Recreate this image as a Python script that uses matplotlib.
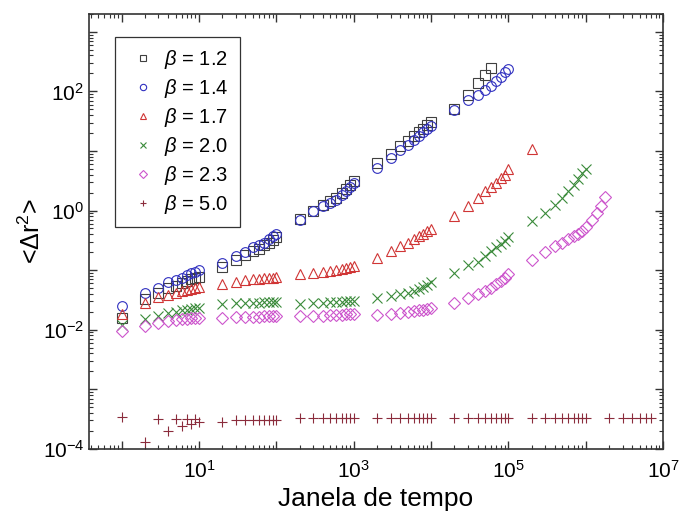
import matplotlib
matplotlib.use("Agg")
import matplotlib.pyplot as plt
from matplotlib.ticker import LogLocator, NullFormatter, FixedLocator, FixedFormatter

plt.rcParams['font.family'] = ['Liberation Sans', 'DejaVu Sans']
plt.rcParams['mathtext.fontset'] = 'custom'
plt.rcParams['mathtext.rm'] = 'Liberation Sans'
plt.rcParams['mathtext.it'] = 'Liberation Sans:italic'

# time windows, grouped by decade
g1 = [1, 2, 3, 4, 5, 6, 7, 8, 9, 10]
g2 = [20, 30, 40, 50, 60, 70, 80, 90, 100]
g3 = [200, 300, 400, 500, 600, 700, 800, 900, 1000]
g4 = [2e3, 3e3, 4e3, 5e3, 6e3, 7e3, 8e3, 9e3, 1e4]
g5 = [2e4, 3e4, 4e4, 5e4, 6e4, 7e4, 8e4, 9e4, 1e5]
g6 = [2e5, 3e5, 4e5, 5e5, 6e5, 7e5, 8e5, 9e5, 1e6]
g7 = [2e6, 3e6, 4e6, 5e6, 6e6, 7e6]

# beta = 1.2
x_12 = g1 + g2 + g3 + g4 + [2e4, 3e4, 4e4, 5e4, 6e4]
y_12 = [0.016, 0.033, 0.042, 0.05, 0.055, 0.06, 0.065, 0.07, 0.073, 0.078,
        0.115, 0.15, 0.18, 0.21, 0.23, 0.26, 0.29, 0.32, 0.36,
        0.72, 1.0, 1.25, 1.45, 1.65, 2.0, 2.3, 2.7, 3.1,
        6.4, 8.8, 12, 14.5, 17.5, 20.5, 23.5, 27, 31,
        50, 88, 137, 190, 245]

# beta = 1.4
x_14 = g1 + g2 + g3 + g4 + g5
y_14 = [0.0246, 0.041, 0.051, 0.062, 0.067, 0.075, 0.082, 0.088, 0.092, 0.1,
        0.134, 0.17, 0.205, 0.24, 0.26, 0.29, 0.33, 0.37, 0.4,
        0.69, 0.97, 1.18, 1.36, 1.53, 1.85, 2.1, 2.5, 2.9,
        5.2, 7.6, 10.5, 12.7, 15.5, 18, 20.5, 23, 25.8,
        49, 72, 88, 106, 124, 147, 177, 210, 240]

# beta = 1.7
x_17 = g1 + g2 + g3 + g4 + g5 + [2e5]
y_17 = [0.018, 0.028, 0.035, 0.038, 0.041, 0.044, 0.046, 0.049, 0.051, 0.053,
        0.058, 0.063, 0.068, 0.07, 0.072, 0.073, 0.074, 0.075, 0.076,
        0.085, 0.088, 0.092, 0.096, 0.1, 0.104, 0.108, 0.112, 0.117,
        0.16, 0.21, 0.25, 0.29, 0.33, 0.37, 0.41, 0.45, 0.49,
        0.82, 1.21, 1.63, 2.1, 2.5, 2.9, 3.5, 4.0, 4.9,
        10.8]

# beta = 2.0
x_20 = g1 + g2 + g3 + g4 + g5 + g6
y_20 = [0.012, 0.0153, 0.017, 0.019, 0.020, 0.0214, 0.0218, 0.0225, 0.023, 0.0234,
        0.027, 0.028, 0.028, 0.0285, 0.0285, 0.029, 0.029, 0.029, 0.029,
        0.0275, 0.028, 0.0285, 0.029, 0.029, 0.0295, 0.03, 0.03, 0.03,
        0.0345, 0.037, 0.039, 0.042, 0.045, 0.048, 0.052, 0.057, 0.062,
        0.088, 0.12, 0.136, 0.17, 0.21, 0.24, 0.27, 0.31, 0.36,
        0.66, 0.91, 1.26, 1.63, 2.1, 2.7, 3.4, 4.2, 5.0]

# beta = 2.3
x_23 = g1 + g2 + g3 + g4 + g5 + g6 + [1.2e6, 1.4e6, 1.6e6, 1.8e6]
y_23 = [0.0095, 0.0115, 0.0128, 0.014, 0.0145, 0.015, 0.0153, 0.0155, 0.0157, 0.016,
        0.016, 0.0162, 0.0164, 0.0165, 0.0166, 0.0167, 0.0168, 0.0169, 0.0169,
        0.0169, 0.017, 0.0172, 0.0174, 0.0176, 0.0178, 0.018, 0.018, 0.0182,
        0.0175, 0.018, 0.0194, 0.0198, 0.0206, 0.0214, 0.0218, 0.0224, 0.0234,
        0.0277, 0.0345, 0.039, 0.045, 0.051, 0.058, 0.066, 0.074, 0.085,
        0.15, 0.2, 0.25, 0.29, 0.33, 0.37, 0.40, 0.45, 0.53,
        0.7, 0.91, 1.18, 1.7]

# beta = 5.0
x_50 = g1 + g2 + g3 + g4 + g5 + g6 + g7
y_50 = [3.4e-4, 1.3e-4, 3.2e-4, 2.0e-4, 3.2e-4, 2.4e-4, 3.2e-4, 2.6e-4, 3.2e-4, 2.8e-4,
        2.8e-4, 3.0e-4, 3.0e-4, 3.0e-4, 3.0e-4, 3.1e-4, 3.1e-4, 3.1e-4, 3.1e-4,
        3.3e-4, 3.3e-4, 3.3e-4, 3.3e-4, 3.3e-4, 3.3e-4, 3.3e-4, 3.3e-4, 3.3e-4,
        3.3e-4, 3.3e-4, 3.3e-4, 3.3e-4, 3.3e-4, 3.3e-4, 3.3e-4, 3.3e-4, 3.3e-4,
        3.3e-4, 3.3e-4, 3.3e-4, 3.3e-4, 3.3e-4, 3.3e-4, 3.3e-4, 3.3e-4, 3.3e-4,
        3.3e-4, 3.3e-4, 3.3e-4, 3.3e-4, 3.3e-4, 3.3e-4, 3.3e-4, 3.3e-4, 3.3e-4,
        3.3e-4, 3.3e-4, 3.3e-4, 3.3e-4, 3.3e-4, 3.3e-4]

series = [
    (x_12, y_12, 's', '#404040', r'$\beta$ = 1.2'),
    (x_14, y_14, 'o', '#3030c0', r'$\beta$ = 1.4'),
    (x_17, y_17, '^', '#d03535', r'$\beta$ = 1.7'),
    (x_20, y_20, 'x', '#3a8a3a', r'$\beta$ = 2.0'),
    (x_23, y_23, 'D', '#cc55cc', r'$\beta$ = 2.3'),
    (x_50, y_50, '+', '#8b2c3c', r'$\beta$ = 5.0'),
]

fig = plt.figure(figsize=(6.8, 5.13), dpi=100)
ax = fig.add_axes([0.131, 0.125, 0.844, 0.848])

for x, y, m, c, lab in series:
    ms = 6 if m == 'D' else 7
    ax.plot(x, y, linestyle='none', marker=m, markersize=ms, markerfacecolor='none',
            markeredgecolor=c, markeredgewidth=0.8, label=lab)

ax.set_xscale('log')
ax.set_yscale('log')
ax.set_xlim(0.38, 1e7)
ax.set_ylim(1e-4, 2e3)

xmaj = [1, 10, 1e2, 1e3, 1e4, 1e5, 1e6, 1e7]
xlab = ['', r'$10^{1}$', '', r'$10^{3}$', '', r'$10^{5}$', '', r'$10^{7}$']
ymaj = [1e-4, 1e-3, 1e-2, 1e-1, 1, 10, 1e2, 1e3]
ylab = [r'$10^{-4}$', '', r'$10^{-2}$', '', r'$10^{0}$', '', r'$10^{2}$', '']
ax.xaxis.set_major_locator(FixedLocator(xmaj))
ax.xaxis.set_major_formatter(FixedFormatter(xlab))
ax.yaxis.set_major_locator(FixedLocator(ymaj))
ax.yaxis.set_major_formatter(FixedFormatter(ylab))
ax.xaxis.set_minor_locator(LogLocator(base=10, subs=range(2, 10), numticks=20))
ax.yaxis.set_minor_locator(LogLocator(base=10, subs=range(2, 10), numticks=20))
ax.xaxis.set_minor_formatter(NullFormatter())
ax.yaxis.set_minor_formatter(NullFormatter())

ax.tick_params(which='both', direction='in', top=True, right=True, colors='#333333',
               labelcolor='black', labelsize=15)
ax.tick_params(which='major', length=6, width=1)
ax.tick_params(which='minor', length=3, width=0.8)
ax.tick_params(axis='x', pad=8)
for s in ax.spines.values():
    s.set_linewidth(1.2)
    s.set_color('#333333')

ax.set_xlabel('Janela de tempo', fontsize=19, labelpad=4)
ax.set_ylabel(r'<$\Delta$r$^{2}$>', fontsize=18, labelpad=-2)

leg = ax.legend(loc='upper left', bbox_to_anchor=(0.045, 0.947), borderaxespad=0,
                fontsize=14.5, markerscale=0.65, handlelength=1.7, handletextpad=0.2,
                labelspacing=0.3, borderpad=0.55, fancybox=False, framealpha=1)
leg.get_frame().set_edgecolor('#333333')
leg.get_frame().set_linewidth(0.9)

fig.savefig('out.png', dpi=100)
